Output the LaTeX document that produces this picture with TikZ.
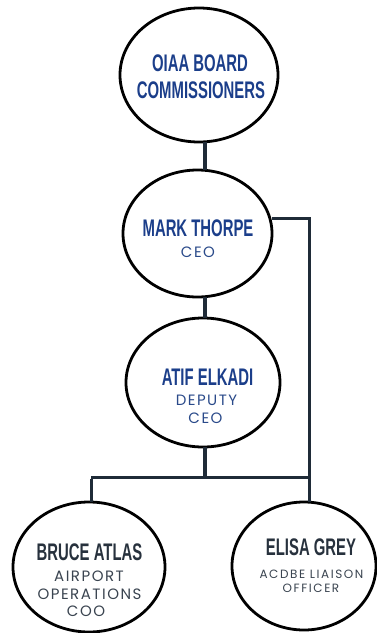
\documentclass[tikz,border=0pt]{standalone}
\usepackage{fontspec}
\usetikzlibrary{shapes.geometric}
\newfontfamily\namefont{Liberation Sans}[FakeStretch=0.62]
\newfontfamily\titlefont{Poppins}[LetterSpace=10]
\newfontfamily\smalltitlefont{Poppins}[LetterSpace=13]
\definecolor{nameblue}{HTML}{1B3E8A}
\definecolor{titleblue}{HTML}{2A4A8A}
\definecolor{namedark}{HTML}{27313D}
\definecolor{titlegrey}{HTML}{3A4450}
\definecolor{linedark}{HTML}{1F2B38}
\tikzset{
  oval/.style={draw=black, line width=2.8pt, ellipse, inner sep=0pt, outer sep=0pt, fill=white},
  nm/.style={inner sep=0pt, font=\namefont\bfseries\fontsize{24}{27}\selectfont},
  tt/.style={inner sep=0pt, font=\titlefont\fontsize{15}{17}\selectfont},
  ts/.style={inner sep=0pt, font=\smalltitlefont\fontsize{12}{14}\selectfont},
  stem/.style={draw=linedark, line width=4.5pt},
  wire/.style={draw=linedark, line width=3pt}
}
\begin{document}
\begin{tikzpicture}[x=1pt,y=-1pt]
\useasboundingbox (0,0) rectangle (377,633);
% ovals
\node[oval, minimum width=158pt, minimum height=134pt] (board) at (199,75) {};
\node[oval, minimum width=149pt, minimum height=127pt] (ceo) at (197.5,233.5) {};
\node[oval, minimum width=154pt, minimum height=129pt] (deputy) at (203,382.5) {};
\node[oval, minimum width=152pt, minimum height=130pt] (coo) at (89,567) {};
\node[oval, minimum width=144pt, minimum height=128pt] (acdbe) at (304,566) {};
% connector helpers
\coordinate (sx) at (205,0);
\coordinate (bar) at (0,477);
\coordinate (rx) at (309,0);
\coordinate (lx) at (91,0);
% connectors
\draw[stem] (board.south -| sx) -- (ceo.north -| sx);
\draw[stem] (ceo.south -| sx) -- (deputy.north -| sx);
\draw[stem] (deputy.south -| sx) -- (bar -| sx);
\draw[wire] (bar -| lx) -- (bar -| rx);
\draw[wire] ([yshift=-1.5pt]bar -| lx) -- (coo.north -| lx);
\draw[wire] (ceo.east |- 0,218) -- (rx |- 0,218) -- (acdbe.north -| rx);
% texts
\node[nm, text=nameblue] (t1a) at (200,63) {OIAA BOARD};
\node[nm, text=nameblue] (t1b) at (201,90) {COMMISSIONERS};
\node[nm, text=nameblue] (t2a) at (198,228) {MARK THORPE};
\node[tt, text=titleblue] (t2b) at (198,252) {CEO};
\node[nm, text=nameblue] (t3a) at (207.5,377) {ATIF ELKADI};
\node[tt, text=titleblue] (t3b) at (206.5,400) {DEPUTY};
\node[tt, text=titleblue] (t3c) at (205.5,418) {CEO};
\node[nm, text=namedark] (t4a) at (89.5,552) {BRUCE ATLAS};
\node[tt, text=titlegrey] (t4b) at (89,576) {AIRPORT};
\node[tt, text=titlegrey] (t4c) at (89.5,594) {OPERATIONS};
\node[tt, text=titlegrey] (t4d) at (86,611) {COO};
\node[nm, text=namedark] (t5a) at (311,547) {ELISA GREY};
\node[ts, text=titlegrey] (t5b) at (311.5,574) {ACDBE LIAISON};
\node[ts, text=titlegrey] (t5c) at (311,588) {OFFICER};
\end{tikzpicture}
\end{document}
